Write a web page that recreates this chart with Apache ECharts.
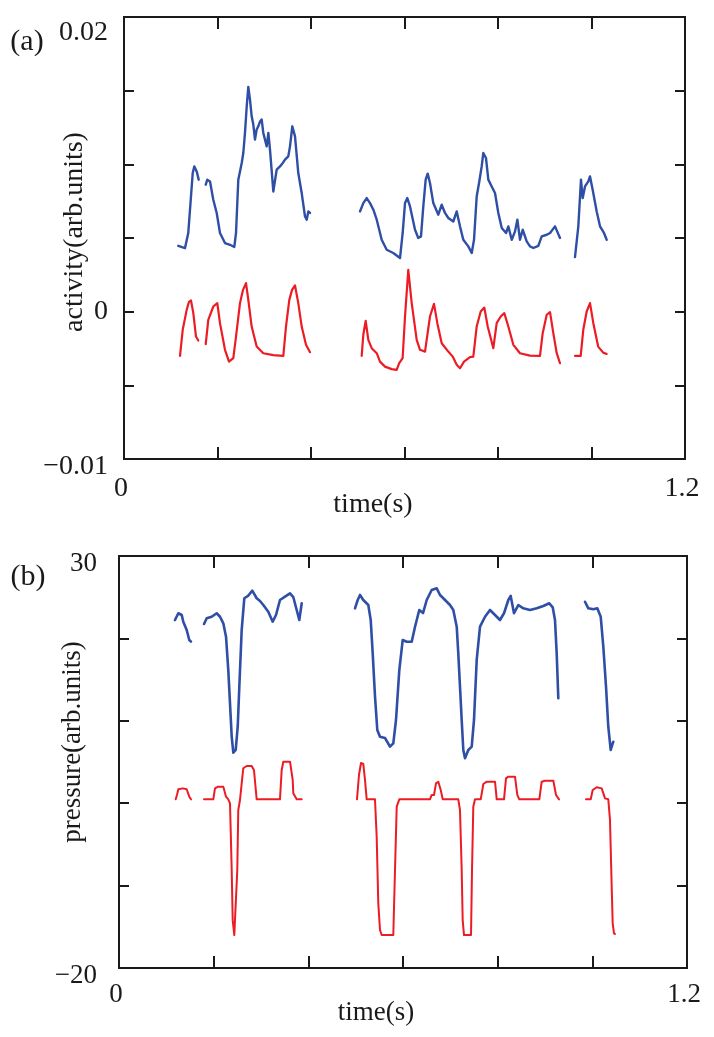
<!DOCTYPE html>
<html><head><meta charset="utf-8">
<script src="https://cdn.jsdelivr.net/npm/echarts@6/dist/echarts.min.js"></script>
<style>html,body{margin:0;padding:0;background:#fff}#c{width:714px;height:1037px}</style>
</head><body><div id="c"></div>
<script>
// ---- axes / ticks ----
const timeRange = [0, 1.2];
const timeStep = 0.2;
const timeTickLabels = [0, 1.2];
const actRange = [-0.01, 0.02];
const actStep = 0.005;
const actTickLabels = [-0.01, 0, 0.02];
const presRange = [-20, 30];
const presStep = 10;
const presTickLabels = [-20, 30];

// ---- panel (a): activity ----
const actBlue1 = [[0.1161,0.00447],[0.1305,0.00432],[0.1375,0.00534],[0.1470,0.00941],[0.1504,0.00986],[0.1555,0.00952],[0.1598,0.00896]];
const actBlue2 = [[0.1748,0.00862],[0.1782,0.00896],[0.1840,0.00884],[0.1910,0.00760],[0.1983,0.00670],[0.2053,0.00534],[0.2160,0.00466],[0.2267,0.00454],[0.2359,0.00439],[0.2396,0.00534],[0.2445,0.00896],[0.2518,0.01009],[0.2552,0.01077],[0.2588,0.01213],[0.2625,0.01394],[0.2659,0.01526],[0.2695,0.01439],[0.2731,0.01326],[0.2766,0.01270],[0.2802,0.01168],[0.2838,0.01236],[0.2873,0.01258],[0.2909,0.01290],[0.2945,0.01304],[0.2980,0.01213],[0.3016,0.01168],[0.3052,0.01122],[0.3088,0.01213],[0.3123,0.01100],[0.3194,0.00816],[0.3266,0.00964],[0.3337,0.00986],[0.3401,0.01011],[0.3444,0.01032],[0.3514,0.01054],[0.3551,0.01122],[0.3600,0.01258],[0.3658,0.01190],[0.3728,0.00941],[0.3801,0.00805],[0.3872,0.00646],[0.3908,0.00624],[0.3943,0.00680],[0.3979,0.00670]];
const actBlue3 = [[0.5048,0.00680],[0.5119,0.00737],[0.5191,0.00771],[0.5262,0.00737],[0.5334,0.00692],[0.5406,0.00624],[0.5512,0.00488],[0.5619,0.00420],[0.5760,0.00398],[0.5904,0.00364],[0.5961,0.00534],[0.6011,0.00737],[0.6060,0.00771],[0.6118,0.00714],[0.6225,0.00556],[0.6295,0.00500],[0.6353,0.00511],[0.6402,0.00714],[0.6453,0.00896],[0.6496,0.00937],[0.6545,0.00873],[0.6616,0.00737],[0.6723,0.00658],[0.6796,0.00726],[0.6866,0.00670],[0.6937,0.00636],[0.7044,0.00612],[0.7117,0.00680],[0.7187,0.00579],[0.7258,0.00488],[0.7365,0.00443],[0.7438,0.00398],[0.7487,0.00488],[0.7544,0.00782],[0.7600,0.00884],[0.7651,0.00986],[0.7686,0.01077],[0.7743,0.01043],[0.7793,0.00896],[0.7865,0.00850],[0.7936,0.00805],[0.8007,0.00670],[0.8080,0.00568],[0.8172,0.00534],[0.8221,0.00579],[0.8294,0.00488],[0.8364,0.00545],[0.8414,0.00624],[0.8471,0.00488],[0.8529,0.00556],[0.8614,0.00477],[0.8685,0.00443],[0.8756,0.00432],[0.8862,0.00447],[0.8935,0.00511],[0.9042,0.00522],[0.9113,0.00534],[0.9220,0.00579],[0.9326,0.00500]];
const actBlue4 = [[0.9647,0.00371],[0.9718,0.00579],[0.9775,0.00896],[0.9812,0.00771],[0.9861,0.00850],[0.9932,0.00884],[0.9968,0.00918],[1.0025,0.00828],[1.0111,0.00680],[1.0182,0.00579],[1.0267,0.00534],[1.0325,0.00488]];
const actRed1 = [[0.1198,-0.00300],[0.1256,-0.00123],[0.1341,0.00012],[0.1390,0.00067],[0.1433,0.00076],[0.1482,-0.00008],[0.1540,-0.00169],[0.1589,-0.00196]];
const actRed2 = [[0.1748,-0.00221],[0.1803,-0.00055],[0.1910,0.00035],[0.1996,0.00058],[0.2053,-0.00078],[0.2160,-0.00259],[0.2246,-0.00339],[0.2338,-0.00316],[0.2396,-0.00169],[0.2481,0.00058],[0.2546,0.00148],[0.2610,0.00194],[0.2659,0.00080],[0.2731,-0.00101],[0.2838,-0.00237],[0.2980,-0.00282],[0.3194,-0.00295],[0.3408,-0.00300],[0.3465,-0.00101],[0.3536,0.00080],[0.3594,0.00148],[0.3658,0.00178],[0.3728,0.00058],[0.3801,-0.00101],[0.3893,-0.00225],[0.3979,-0.00275]];
const actRed3 = [[0.5084,-0.00300],[0.5119,-0.00157],[0.5170,-0.00062],[0.5226,-0.00191],[0.5298,-0.00248],[0.5406,-0.00282],[0.5476,-0.00339],[0.5583,-0.00373],[0.5726,-0.00390],[0.5833,-0.00395],[0.5887,-0.00350],[0.5960,-0.00316],[0.6011,-0.00033],[0.6081,0.00284],[0.6154,0.00058],[0.6261,-0.00191],[0.6332,-0.00259],[0.6439,-0.00271],[0.6545,-0.00033],[0.6631,0.00053],[0.6702,-0.00078],[0.6796,-0.00214],[0.6937,-0.00271],[0.7031,-0.00305],[0.7117,-0.00361],[0.7187,-0.00384],[0.7273,-0.00339],[0.7401,-0.00309],[0.7472,-0.00305],[0.7544,-0.00101],[0.7630,0.00001],[0.7707,0.00028],[0.7780,-0.00101],[0.7900,-0.00248],[0.7972,-0.00078],[0.8058,-0.00033],[0.8135,-0.00010],[0.8221,-0.00101],[0.8328,-0.00225],[0.8471,-0.00282],[0.8685,-0.00298],[0.8898,-0.00300],[0.8956,-0.00146],[0.9042,-0.00021],[0.9113,-0.00003],[0.9183,-0.00146],[0.9256,-0.00282],[0.9326,-0.00350]];
const actRed4 = [[0.9647,-0.00300],[0.9769,-0.00300],[0.9824,-0.00123],[0.9897,0.00001],[0.9968,0.00058],[1.0039,-0.00078],[1.0143,-0.00237],[1.0250,-0.00278],[1.0325,-0.00287]];

// ---- panel (b): pressure ----
const presBlue1 = [[0.1183,22.23],[0.1253,23.05],[0.1325,22.84],[0.1358,22.03],[0.1430,21.02],[0.1485,19.81],[0.1521,19.60]];
const presBlue2 = [[0.1796,21.75],[0.1853,22.44],[0.1958,22.63],[0.2064,23.05],[0.2134,22.63],[0.2204,21.83],[0.2261,20.21],[0.2309,16.16],[0.2345,12.12],[0.2381,8.07],[0.2415,6.13],[0.2466,6.46],[0.2508,9.28],[0.2542,14.14],[0.2592,21.02],[0.2647,24.87],[0.2725,25.15],[0.2816,25.79],[0.2909,24.87],[0.2979,24.54],[0.3049,24.05],[0.3154,23.24],[0.3247,22.03],[0.3317,22.84],[0.3401,24.66],[0.3507,25.06],[0.3613,25.47],[0.3682,25.02],[0.3754,23.45],[0.3809,22.23],[0.3860,24.26]];
const presBlue3 = [[0.4986,23.65],[0.5043,24.66],[0.5092,25.27],[0.5161,24.66],[0.5267,24.05],[0.5318,22.23],[0.5360,18.19],[0.5409,12.92],[0.5457,8.88],[0.5514,8.07],[0.5620,7.91],[0.5725,6.86],[0.5795,7.27],[0.5852,10.10],[0.5922,16.16],[0.5994,19.81],[0.6078,19.60],[0.6184,19.60],[0.6254,21.42],[0.6344,23.45],[0.6423,23.08],[0.6501,24.66],[0.6606,25.87],[0.6712,26.08],[0.6782,25.27],[0.6888,24.66],[0.6993,24.05],[0.7063,23.45],[0.7135,21.42],[0.7168,18.19],[0.7204,14.14],[0.7240,10.10],[0.7274,6.46],[0.7310,5.45],[0.7380,6.46],[0.7452,6.86],[0.7500,10.10],[0.7557,17.38],[0.7627,21.42],[0.7733,22.63],[0.7838,23.45],[0.7944,22.84],[0.8049,22.23],[0.8134,23.05],[0.8225,24.66],[0.8275,25.15],[0.8345,23.05],[0.8436,24.05],[0.8542,23.65],[0.8683,23.45],[0.8825,23.65],[0.8964,23.93],[0.9091,24.26],[0.9163,23.77],[0.9211,22.23],[0.9247,18.19],[0.9281,12.73]];
const presBlue4 = [[0.9845,24.45],[0.9915,23.65],[1.0021,23.53],[1.0105,23.65],[1.0177,22.63],[1.0232,18.99],[1.0289,14.14],[1.0337,9.28],[1.0388,6.46],[1.0443,7.46]];
const presRed1 = [[0.1198,0.47],[0.1225,1.0],[0.1253,1.69],[0.1352,1.8],[0.1430,1.69],[0.1485,0.79],[0.1521,0.47]];
const presRed2 = [[0.1796,0.47],[0.1992,0.47],[0.2028,1.81],[0.2092,2.0],[0.2204,2.0],[0.2261,0.79],[0.2309,0.47],[0.2345,-0.01],[0.2381,-8.11],[0.2402,-14.18],[0.2436,-16.0],[0.2472,-16.0],[0.2499,-8.11],[0.2520,-0.83],[0.2556,0.39],[0.2592,2.41],[0.2626,4.24],[0.2698,4.51],[0.2804,4.51],[0.2852,4.0],[0.2909,0.47],[0.3401,0.47],[0.3437,4.03],[0.3471,5.04],[0.3613,5.04],[0.3670,2.82],[0.3682,1.2],[0.3754,0.47],[0.3860,0.47]];
const presRed3 = [[0.5028,0.47],[0.5070,3.42],[0.5113,4.88],[0.5161,4.76],[0.5197,2.82],[0.5233,0.47],[0.5408,0.47],[0.5444,-4.07],[0.5478,-12.15],[0.5514,-15.39],[0.5550,-16.0],[0.5795,-16.0],[0.5831,-8.11],[0.5867,-0.42],[0.5922,0.47],[0.6570,0.47],[0.6606,1.0],[0.6655,1.0],[0.6697,2.41],[0.6746,2.61],[0.6797,1.6],[0.6839,0.47],[0.7168,0.47],[0.7204,-0.83],[0.7240,-8.11],[0.7261,-14.18],[0.7289,-16.0],[0.7437,-16.0],[0.7458,-8.11],[0.7485,-0.42],[0.7521,0.47],[0.7642,0.47],[0.7697,2.33],[0.7769,2.61],[0.7944,2.61],[0.7980,0.47],[0.8134,0.47],[0.8176,3.02],[0.8225,3.22],[0.8366,3.22],[0.8415,1.0],[0.8457,0.47],[0.8880,0.47],[0.8930,2.61],[0.9000,2.73],[0.9176,2.73],[0.9233,1.0],[0.9296,0.47]];
const presRed4 = [[0.9866,0.47],[0.9966,0.47],[1.0008,1.6],[1.0092,1.93],[1.0198,1.8],[1.0268,0.59],[1.0337,0.47],[1.0373,-2.04],[1.0409,-10.13],[1.0430,-14.58],[1.0458,-15.79],[1.0479,-15.87]];

// ---- styling ----
const BLUE = '#2f4ea6';
const RED = '#ec1c24';
const INK = '#1a1a1a';
const FONT = '"Liberation Serif", "Times New Roman", serif';

function fmtNum(v) {
  const s = String(Math.abs(v));
  return v < 0 ? '\u2212' + s : s;
}
function pickLabel(v, list) {
  for (const L of list) if (Math.abs(L - v) < 1e-9) return L;
  return null;
}

function xAxisDef(gridIndex, top, fontSize, margin) {
  return {
    type: 'value', gridIndex, position: top ? 'top' : 'bottom',
    min: timeRange[0], max: timeRange[1], interval: timeStep,
    axisLine: { show: false, onZero: false }, splitLine: { show: false },
    axisTick: { show: true, inside: true, length: 12, lineStyle: { color: INK, width: 2 } },
    axisLabel: top ? { show: false } : {
      show: true, margin, fontSize, fontFamily: FONT, color: INK, hideOverlap: false,
      padding: [0, 6, 0, 0],
      formatter: v => { const L = pickLabel(v, timeTickLabels); return L === null ? '' : fmtNum(L); }
    }
  };
}
// ticks-only axis (left or right)
function yTickAxis(gridIndex, right, range, step) {
  return {
    type: 'value', gridIndex, position: right ? 'right' : 'left',
    min: range[0], max: range[1], interval: step,
    axisLine: { show: false, onZero: false }, splitLine: { show: false },
    axisTick: { show: true, inside: true, length: 10, lineStyle: { color: INK, width: 2 } },
    axisLabel: { show: false }
  };
}
// labels-only axis: shows the given tick labels, centre shifted down by "shift" px
function yLabelAxis(gridIndex, range, step, labels, fontSize, margin, shift) {
  const lbl = {
    show: true, margin, fontSize, fontFamily: FONT, color: INK, hideOverlap: false,
    formatter: v => { const L = pickLabel(v, labels); return L === null ? '' : fmtNum(L); }
  };
  if (shift > 0) { lbl.verticalAlign = 'top'; lbl.lineHeight = shift * 4; }
  return {
    type: 'value', gridIndex, position: 'left',
    min: range[0], max: range[1], interval: step,
    axisLine: { show: false, onZero: false }, splitLine: { show: false },
    axisTick: { show: false },
    axisLabel: lbl
  };
}

function line(data, color, xi, yi, w) {
  return {
    type: 'line', data, xAxisIndex: xi, yAxisIndex: yi,
    symbol: 'none', showSymbol: false, silent: true, animation: false,
    lineStyle: { color, width: w, join: 'round', cap: 'round' }, itemStyle: { color }
  };
}

const chart = echarts.init(document.getElementById('c'), null, { renderer: 'canvas' });
chart.setOption({
  backgroundColor: '#ffffff',
  animation: false,
  grid: [
    { left: 124, top: 17, width: 561, height: 442, show: true, borderColor: INK, borderWidth: 2, backgroundColor: 'transparent' },
    { left: 119, top: 556, width: 568, height: 412, show: true, borderColor: INK, borderWidth: 2, backgroundColor: 'transparent' }
  ],
  xAxis: [
    xAxisDef(0, false, 28, 16), xAxisDef(0, true, 28, 16),
    xAxisDef(1, false, 27, 13), xAxisDef(1, true, 27, 13)
  ],
  yAxis: [
    yTickAxis(0, false, actRange, actStep),                                   // 0
    yTickAxis(0, true, actRange, actStep),                                    // 1
    yLabelAxis(0, actRange, actStep, [actTickLabels[1]], 28, 16, 0),          // 2 : "0"
    yLabelAxis(0, actRange, actStep, [actTickLabels[2]], 28, 16, 8),          // 3 : "0.02"
    yLabelAxis(0, actRange, actStep, [actTickLabels[0]], 28, 16, 4),          // 4 : "-0.01"
    yTickAxis(1, false, presRange, presStep),                                 // 5
    yTickAxis(1, true, presRange, presStep),                                  // 6
    yLabelAxis(1, presRange, presStep, presTickLabels, 27, 22, 4)             // 7
  ],
  series: [
    line(actBlue1, BLUE, 0, 0, 2.4), line(actBlue2, BLUE, 0, 0, 2.4), line(actBlue3, BLUE, 0, 0, 2.4), line(actBlue4, BLUE, 0, 0, 2.4),
    line(actRed1, RED, 0, 0, 2.2), line(actRed2, RED, 0, 0, 2.2), line(actRed3, RED, 0, 0, 2.2), line(actRed4, RED, 0, 0, 2.2),
    line(presBlue1, BLUE, 2, 5, 2.6), line(presBlue2, BLUE, 2, 5, 2.6), line(presBlue3, BLUE, 2, 5, 2.6), line(presBlue4, BLUE, 2, 5, 2.6),
    line(presRed1, RED, 2, 5, 2), line(presRed2, RED, 2, 5, 2), line(presRed3, RED, 2, 5, 2), line(presRed4, RED, 2, 5, 2)
  ],
  graphic: [
    { type: 'text', x: 27, y: 42, style: { text: '(a)', fontSize: 30, fontFamily: FONT, fill: INK, align: 'center', verticalAlign: 'middle' } },
    { type: 'text', x: 373, y: 505, style: { text: 'time(s)', fontSize: 28, fontFamily: FONT, fill: INK, align: 'center', verticalAlign: 'middle' } },
    { type: 'text', x: 75, y: 232, rotation: Math.PI / 2, style: { text: 'activity(arb.units)', fontSize: 28, fontFamily: FONT, fill: INK, align: 'center', verticalAlign: 'middle' } },
    { type: 'text', x: 28, y: 577, style: { text: '(b)', fontSize: 30, fontFamily: FONT, fill: INK, align: 'center', verticalAlign: 'middle' } },
    { type: 'text', x: 376, y: 1013, style: { text: 'time(s)', fontSize: 27, fontFamily: FONT, fill: INK, align: 'center', verticalAlign: 'middle' } },
    { type: 'text', x: 73, y: 742, rotation: Math.PI / 2, style: { text: 'pressure(arb.units)', fontSize: 27, fontFamily: FONT, fill: INK, align: 'center', verticalAlign: 'middle' } }
  ]
});
</script>
</body></html>
